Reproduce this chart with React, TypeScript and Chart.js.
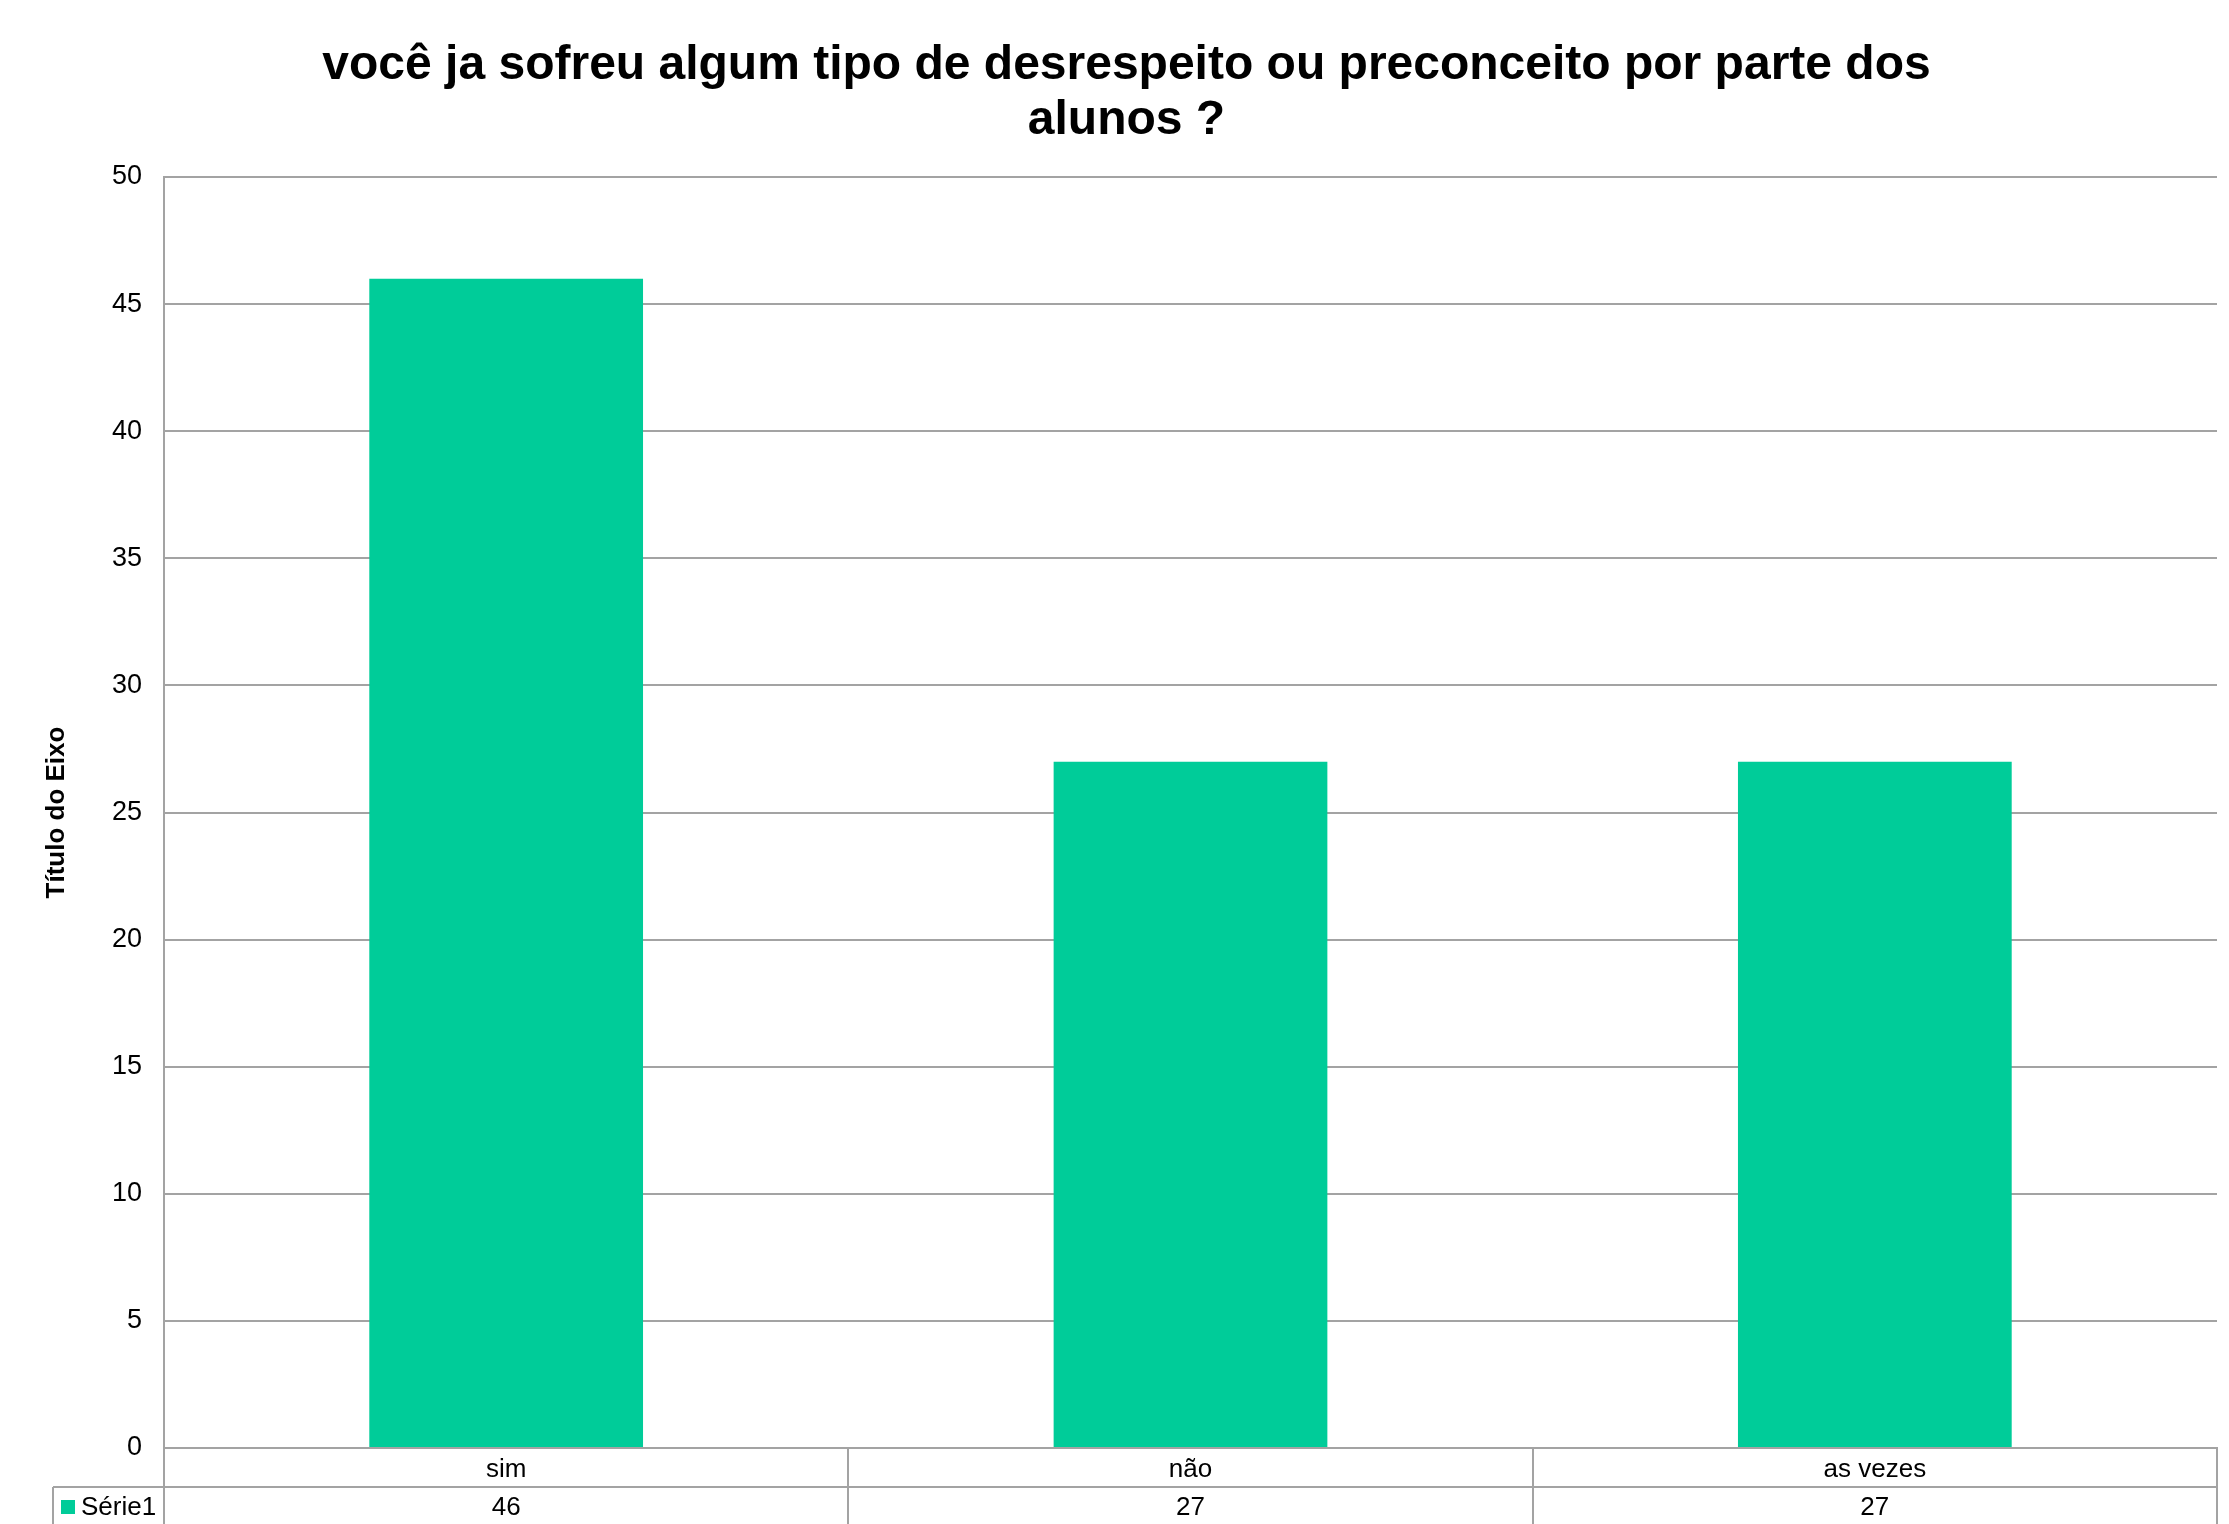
import React, { useEffect, useRef } from "react";
import { Chart, registerables } from "chart.js";

Chart.register(...registerables);

const titleLines = [
  "você ja sofreu algum tipo de desrespeito ou preconceito por parte dos",
  "alunos ?",
];
const axisTitle = "Título do Eixo";
const categories = ["sim", "não", "as vezes"];
const seriesName = "Série1";
const seriesValues = [46, 27, 27];
const yMin = 0;
const yMax = 50;
const yStep = 5;

const FONT = "'Liberation Sans', Arial, Helvetica, sans-serif";
const BAR_COLOR = "rgb(0,204,153)";
const GRID_COLOR = "#a3a3a3";

const W = 2229;
const H = 1524;

const dataTablePlugin = {
  id: "dataTable",
  afterDraw(chart: any) {
    const { ctx, chartArea, scales } = chart;
    const xs = scales.x;
    const n = categories.length;
    const left = chartArea.left;
    const right = chartArea.right;
    const top = chartArea.bottom;
    const rowH = 39;
    const colW = (right - left) / n;
    const legendLeft = 53;
    ctx.save();
    ctx.strokeStyle = GRID_COLOR;
    ctx.lineWidth = 2;
    ctx.beginPath();
    ctx.moveTo(legendLeft, top + rowH);
    ctx.lineTo(right, top + rowH);
    ctx.moveTo(legendLeft, top + 2 * rowH);
    ctx.lineTo(right, top + 2 * rowH);
    for (let i = 0; i <= n; i++) {
      const x = Math.round(left + i * colW);
      ctx.moveTo(x, top);
      ctx.lineTo(x, top + 2 * rowH);
    }
    ctx.moveTo(legendLeft, top + rowH);
    ctx.lineTo(legendLeft, top + 2 * rowH);
    ctx.stroke();

    ctx.fillStyle = "#000";
    ctx.font = `26px ${FONT}`;
    ctx.textAlign = "center";
    ctx.textBaseline = "middle";
    for (let i = 0; i < n; i++) {
      const cx = xs.getPixelForValue(i);
      ctx.fillText(categories[i], cx, top + rowH / 2 + 2);
      ctx.fillText(String(seriesValues[i]), cx, top + rowH * 1.5 + 1);
    }
    ctx.fillStyle = BAR_COLOR;
    ctx.fillRect(61, top + rowH + 13, 14, 14);
    ctx.fillStyle = "#000";
    ctx.textAlign = "left";
    ctx.fillText(seriesName, 81, top + rowH * 1.5 + 1);
    ctx.restore();
  },
};

export default function App() {
  const canvasRef = useRef<HTMLCanvasElement | null>(null);

  useEffect(() => {
    document.body.style.margin = "0";
    document.body.style.overflow = "hidden";
    const canvas = canvasRef.current;
    if (!canvas) return;
    const chart = new Chart(canvas, {
      type: "bar",
      data: {
        labels: categories,
        datasets: [
          {
            label: seriesName,
            data: seriesValues,
            backgroundColor: BAR_COLOR,
            borderWidth: 0,
            barPercentage: 0.4,
            categoryPercentage: 1.0,
          },
        ],
      },
      options: {
        animation: false,
        responsive: false,
        devicePixelRatio: 1,
        layout: { padding: { left: 36, right: 12, top: 0, bottom: 0 } },
        plugins: {
          legend: { display: false },
          tooltip: { enabled: false },
          title: {
            display: true,
            text: titleLines,
            color: "#000",
            font: { family: FONT, size: 48, weight: "bold", lineHeight: 1.15 },
            padding: { top: 38.4, bottom: 28.2 },
          },
        },
        scales: {
          x: {
            type: "category",
            offset: true,
            grid: { display: false },
            ticks: { display: false },
            border: { display: true, color: GRID_COLOR, width: 2 },
            afterFit(scale: any) {
              scale.height = 76;
            },
          },
          y: {
            min: yMin,
            max: yMax,
            ticks: {
              stepSize: yStep,
              color: "#000",
              padding: 22,
              font: { family: FONT, size: 27 },
            },
            grid: {
              color: GRID_COLOR,
              lineWidth: 2,
              drawTicks: false,
            },
            border: { display: true, color: GRID_COLOR, width: 2 },
            title: {
              display: true,
              text: axisTitle,
              color: "#000",
              font: { family: FONT, size: 26, weight: "bold", lineHeight: 1.2 },
              padding: { top: 5, bottom: 0 },
            },
            afterFit(scale: any) {
              scale.width = 128;
            },
          },
        },
      },
      plugins: [dataTablePlugin],
    });
    return () => chart.destroy();
  }, []);

  return (
    <div style={{ width: W, height: H, background: "#fff" }}>
      <canvas ref={canvasRef} width={W} height={H} style={{ display: "block" }} />
    </div>
  );
}
